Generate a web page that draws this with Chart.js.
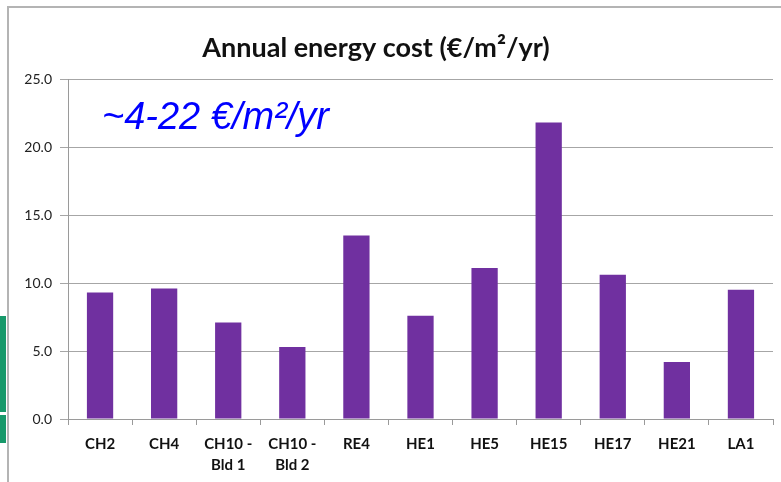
<!DOCTYPE html>
<html>
<head>
<meta charset="utf-8">
<script src="https://cdn.jsdelivr.net/npm/chart.js@4/dist/chart.umd.min.js"></script>
<style>
  html, body { margin: 0; padding: 0; background: #fff; }
  body { width: 781px; height: 482px; position: relative; overflow: hidden; }
  #frame {
    position: absolute; left: 7px; top: 6px; width: 774px; height: 476px;
    border-left: 2px solid #b4b4b4; border-top: 2px solid #b4b4b4;
  }
  #wrap { position: absolute; left: 9px; top: 8px; width: 772px; height: 474px; }
  .green { position: absolute; left: 0; width: 6px; background: #17996a; }
</style>
</head>
<body>
<div class="green" style="top:316px;height:96px"></div>
<div class="green" style="top:415px;height:28px"></div>
<div id="frame"></div>
<div id="wrap"><canvas id="costChart"></canvas></div>
<script>
const categories = ["CH2", "CH4", ["CH10 -", "Bld 1"], ["CH10 -", "Bld 2"], "RE4", "HE1", "HE5", "HE15", "HE17", "HE21", "LA1"];
const costValues = [9.3, 9.6, 7.1, 5.3, 13.5, 7.6, 11.1, 21.8, 10.6, 4.2, 9.5];
const yTicks = [0, 5, 10, 15, 20, 25];

const titleText = "Annual energy cost (€/m²/yr)";
const noteText = "~4-22 €/m²/yr";

const textPlugin = {
  id: "slideText",
  afterDraw(chart) {
    const ctx = chart.ctx;
    ctx.save();
    ctx.fillStyle = "#111";
    ctx.font = "bold 27px Lato, 'Open Sans', sans-serif";
    ctx.textAlign = "center";
    ctx.textBaseline = "alphabetic";
    ctx.fillText(titleText, 367, 49);

    ctx.fillStyle = "#0000ff";
    ctx.font = "italic 38px 'Liberation Sans', Arial, sans-serif";
    ctx.textAlign = "left";
    ctx.fillText(noteText, 93, 121);
    ctx.restore();
  }
};

new Chart(document.getElementById("costChart"), {
  type: "bar",
  data: {
    labels: categories,
    datasets: [
      {
        label: "Annual energy cost",
        data: costValues,
        backgroundColor: "#7030a0",
        borderWidth: 0,
        categoryPercentage: 1.0,
        barPercentage: 0.41
      }
    ]
  },
  options: {
    animation: false,
    responsive: true,
    maintainAspectRatio: false,
    layout: { padding: { top: 71, right: 8, bottom: 0, left: 0 } },
    plugins: {
      legend: { display: false },
      tooltip: { enabled: false }
    },
    scales: {
      x: {
        grid: {
          drawOnChartArea: false,
          drawTicks: true,
          tickLength: 6,
          color: "#9a9a9a",
          offset: true
        },
        border: { color: "#9a9a9a", width: 1 },
        ticks: {
          color: "#111",
          font: { family: "Lato, 'Open Sans', sans-serif", size: 15, weight: "bold", lineHeight: 1.45 },
          maxRotation: 0,
          autoSkip: false,
          padding: 8
        },
        afterFit(scale) { scale.height = 63; }
      },
      y: {
        min: 0,
        max: 25,
        afterBuildTicks(scale) { scale.ticks = yTicks.map(v => ({ value: v })); },
        grid: { color: "#a6a6a6", tickLength: 8, lineWidth: 1 },
        border: { color: "#9a9a9a", width: 1 },
        ticks: {
          color: "#222",
          font: { family: "Lato, 'Open Sans', sans-serif", size: 14 },
          padding: 8,
          callback: v => v.toFixed(1)
        },
        afterFit(scale) { scale.width = 59; }
      }
    }
  },
  plugins: [textPlugin]
});
</script>
</body>
</html>
